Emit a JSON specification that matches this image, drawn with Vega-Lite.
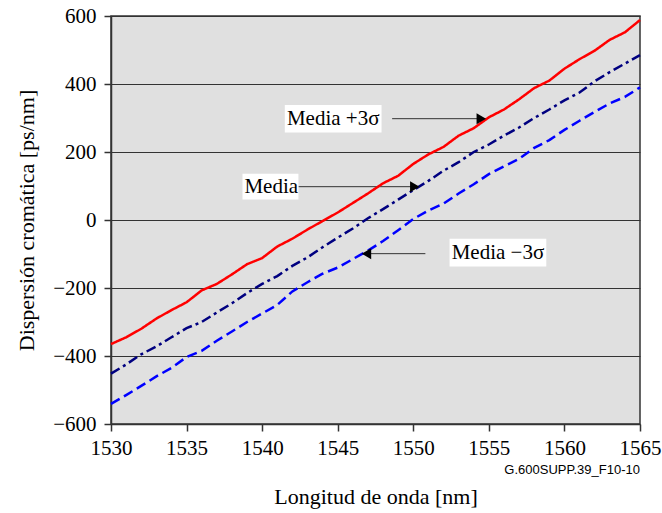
{
  "$schema": "https://vega.github.io/schema/vega-lite/v6.json",
  "width": 529,
  "height": 408,
  "autosize": {"type": "none"},
  "padding": {"left": 111, "top": 16, "right": 22, "bottom": 89},
  "background": "white",
  "config": {
    "view": {"fill": "#e0e0e0", "stroke": "#333333", "strokeWidth": 1.5},
    "font": "Liberation Serif"
  },
  "datasets": {
    "curves": [
      {"wl":1530,"s":"Media +3σ","v":-365},{"wl":1531,"s":"Media +3σ","v":-345},{"wl":1532,"s":"Media +3σ","v":-320},{"wl":1533,"s":"Media +3σ","v":-290},{"wl":1534,"s":"Media +3σ","v":-265},{"wl":1535,"s":"Media +3σ","v":-242},{"wl":1536,"s":"Media +3σ","v":-207},{"wl":1537,"s":"Media +3σ","v":-188},{"wl":1538,"s":"Media +3σ","v":-160},{"wl":1539,"s":"Media +3σ","v":-130},{"wl":1540,"s":"Media +3σ","v":-112},{"wl":1541,"s":"Media +3σ","v":-78},{"wl":1542,"s":"Media +3σ","v":-55},{"wl":1543,"s":"Media +3σ","v":-28},{"wl":1544,"s":"Media +3σ","v":-3},{"wl":1545,"s":"Media +3σ","v":22},{"wl":1546,"s":"Media +3σ","v":50},{"wl":1547,"s":"Media +3σ","v":78},{"wl":1548,"s":"Media +3σ","v":108},{"wl":1549,"s":"Media +3σ","v":130},{"wl":1550,"s":"Media +3σ","v":165},{"wl":1551,"s":"Media +3σ","v":193},{"wl":1552,"s":"Media +3σ","v":215},{"wl":1553,"s":"Media +3σ","v":248},{"wl":1554,"s":"Media +3σ","v":270},{"wl":1555,"s":"Media +3σ","v":302},{"wl":1556,"s":"Media +3σ","v":325},{"wl":1557,"s":"Media +3σ","v":355},{"wl":1558,"s":"Media +3σ","v":388},{"wl":1559,"s":"Media +3σ","v":410},{"wl":1560,"s":"Media +3σ","v":445},{"wl":1561,"s":"Media +3σ","v":473},{"wl":1562,"s":"Media +3σ","v":498},{"wl":1563,"s":"Media +3σ","v":530},{"wl":1564,"s":"Media +3σ","v":552},{"wl":1565,"s":"Media +3σ","v":588},
      {"wl":1530,"s":"Media","v":-452},{"wl":1531,"s":"Media","v":-425},{"wl":1532,"s":"Media","v":-395},{"wl":1533,"s":"Media","v":-372},{"wl":1534,"s":"Media","v":-345},{"wl":1535,"s":"Media","v":-318},{"wl":1536,"s":"Media","v":-300},{"wl":1537,"s":"Media","v":-272},{"wl":1538,"s":"Media","v":-245},{"wl":1539,"s":"Media","v":-215},{"wl":1540,"s":"Media","v":-188},{"wl":1541,"s":"Media","v":-165},{"wl":1542,"s":"Media","v":-135},{"wl":1543,"s":"Media","v":-110},{"wl":1544,"s":"Media","v":-80},{"wl":1545,"s":"Media","v":-52},{"wl":1546,"s":"Media","v":-25},{"wl":1547,"s":"Media","v":5},{"wl":1548,"s":"Media","v":32},{"wl":1549,"s":"Media","v":60},{"wl":1550,"s":"Media","v":88},{"wl":1551,"s":"Media","v":115},{"wl":1552,"s":"Media","v":145},{"wl":1553,"s":"Media","v":170},{"wl":1554,"s":"Media","v":200},{"wl":1555,"s":"Media","v":222},{"wl":1556,"s":"Media","v":248},{"wl":1557,"s":"Media","v":272},{"wl":1558,"s":"Media","v":300},{"wl":1559,"s":"Media","v":325},{"wl":1560,"s":"Media","v":352},{"wl":1561,"s":"Media","v":375},{"wl":1562,"s":"Media","v":408},{"wl":1563,"s":"Media","v":435},{"wl":1564,"s":"Media","v":460},{"wl":1565,"s":"Media","v":485},
      {"wl":1530,"s":"Media −3σ","v":-541},{"wl":1531,"s":"Media −3σ","v":-515},{"wl":1532,"s":"Media −3σ","v":-488},{"wl":1533,"s":"Media −3σ","v":-460},{"wl":1534,"s":"Media −3σ","v":-435},{"wl":1535,"s":"Media −3σ","v":-403},{"wl":1536,"s":"Media −3σ","v":-385},{"wl":1537,"s":"Media −3σ","v":-355},{"wl":1538,"s":"Media −3σ","v":-328},{"wl":1539,"s":"Media −3σ","v":-300},{"wl":1540,"s":"Media −3σ","v":-275},{"wl":1541,"s":"Media −3σ","v":-250},{"wl":1542,"s":"Media −3σ","v":-210},{"wl":1543,"s":"Media −3σ","v":-183},{"wl":1544,"s":"Media −3σ","v":-158},{"wl":1545,"s":"Media −3σ","v":-140},{"wl":1546,"s":"Media −3σ","v":-115},{"wl":1547,"s":"Media −3σ","v":-90},{"wl":1548,"s":"Media −3σ","v":-62},{"wl":1549,"s":"Media −3σ","v":-30},{"wl":1550,"s":"Media −3σ","v":3},{"wl":1551,"s":"Media −3σ","v":28},{"wl":1552,"s":"Media −3σ","v":48},{"wl":1553,"s":"Media −3σ","v":78},{"wl":1554,"s":"Media −3σ","v":105},{"wl":1555,"s":"Media −3σ","v":135},{"wl":1556,"s":"Media −3σ","v":158},{"wl":1557,"s":"Media −3σ","v":180},{"wl":1558,"s":"Media −3σ","v":212},{"wl":1559,"s":"Media −3σ","v":235},{"wl":1560,"s":"Media −3σ","v":265},{"wl":1561,"s":"Media −3σ","v":292},{"wl":1562,"s":"Media −3σ","v":318},{"wl":1563,"s":"Media −3σ","v":343},{"wl":1564,"s":"Media −3σ","v":362},{"wl":1565,"s":"Media −3σ","v":390}
    ],
    "notes": [
      {"label":"Media +3σ","tx":1544.7,"ty":298,"bx1":1541.5,"bx2":1547.9,"by1":257,"by2":338,"ax1":1548.6,"ax2":1554.5,"ay":298,"shape":"triangle-right"},
      {"label":"Media","tx":1540.6,"ty":98,"bx1":1538.7,"bx2":1542.4,"by1":60,"by2":136,"ax1":1542.4,"ax2":1550.1,"ay":98,"shape":"triangle-right"},
      {"label":"Media −3σ","tx":1555.6,"ty":-97,"bx1":1552.4,"bx2":1558.8,"by1":-137,"by2":-55,"ax1":1550.8,"ax2":1546.9,"ay":-99,"shape":"triangle-left"}
    ],
    "foot": [{"wl":1565,"v":-735,"t":"G.600SUPP.39_F10-10"}]
  },
  "layer": [
    {
      "data": {"name": "notes"},
      "mark": {"type": "rule", "color": "#333333", "strokeWidth": 1},
      "encoding": {
        "x": {"field": "ax1", "type": "quantitative", "scale": {"domain": [1530, 1565], "nice": false}},
        "x2": {"field": "ax2"},
        "y": {"field": "ay", "type": "quantitative", "scale": {"domain": [-600, 600], "nice": false}}
      }
    },
    {
      "data": {"name": "curves"},
      "mark": {"type": "line", "strokeWidth": 2.5},
      "encoding": {
        "x": {
          "field": "wl", "type": "quantitative",
          "scale": {"domain": [1530, 1565], "nice": false, "zero": false},
          "axis": {
            "values": [1530, 1535, 1540, 1545, 1550, 1555, 1560, 1565],
            "format": "d", "grid": false, "domain": true, "domainColor": "#333333", "domainWidth": 1.5,
            "tickColor": "#333333", "tickSize": 7, "tickWidth": 1.5,
            "labelFont": "Liberation Serif", "labelFontSize": 21, "labelColor": "black", "labelPadding": 6,
            "labelFlush": false, "labelOverlap": false,
            "title": "Longitud de onda [nm]", "titleFont": "Liberation Serif", "titleFontSize": 22,
            "titleFontWeight": "normal", "titleColor": "black", "titlePadding": 28
          }
        },
        "y": {
          "field": "v", "type": "quantitative",
          "scale": {"domain": [-600, 600], "nice": false},
          "axis": {
            "values": [-600, -400, -200, 0, 200, 400, 600],
            "grid": true, "gridColor": "#333333", "gridWidth": 1.2, "gridOpacity": 1,
            "domain": true, "domainColor": "#333333", "domainWidth": 1.5,
            "tickColor": "#333333", "tickSize": 7, "tickWidth": 1.5,
            "labelFont": "Liberation Serif", "labelFontSize": 21, "labelColor": "black", "labelPadding": 8,
            "labelFlush": false, "labelOverlap": false,
            "title": "Dispersión cromática [ps/nm]", "titleFont": "Liberation Serif", "titleFontSize": 22,
            "titleFontWeight": "normal", "titleColor": "black", "titlePadding": 14
          }
        },
        "color": {
          "field": "s", "type": "nominal",
          "scale": {"domain": ["Media +3σ", "Media", "Media −3σ"], "range": ["#ff0000", "#000080", "#0000ff"]},
          "legend": null
        },
        "strokeDash": {
          "field": "s", "type": "nominal",
          "scale": {"domain": ["Media +3σ", "Media", "Media −3σ"], "range": [[1, 0], [10, 4, 3, 4], [10, 5]]},
          "legend": null
        }
      }
    },
    {
      "data": {"name": "notes"},
      "mark": {"type": "point", "filled": true, "color": "black", "opacity": 1, "size": 120},
      "encoding": {
        "x": {"field": "ax2", "type": "quantitative"},
        "y": {"field": "ay", "type": "quantitative"},
        "shape": {"field": "shape", "type": "nominal", "scale": {"domain": ["triangle-right", "triangle-left"], "range": ["triangle-right", "triangle-left"]}, "legend": null}
      }
    },
    {
      "data": {"name": "notes"},
      "mark": {"type": "rect", "fill": "white", "stroke": null},
      "encoding": {
        "x": {"field": "bx1", "type": "quantitative"},
        "x2": {"field": "bx2"},
        "y": {"field": "by1", "type": "quantitative"},
        "y2": {"field": "by2"}
      }
    },
    {
      "data": {"name": "notes"},
      "mark": {"type": "text", "font": "Liberation Serif", "fontSize": 21, "color": "black", "align": "center", "baseline": "middle"},
      "encoding": {
        "x": {"field": "tx", "type": "quantitative"},
        "y": {"field": "ty", "type": "quantitative"},
        "text": {"field": "label"}
      }
    },
    {
      "data": {"name": "foot"},
      "mark": {"type": "text", "font": "Liberation Sans", "fontSize": 13, "color": "black", "align": "right", "baseline": "middle"},
      "encoding": {
        "x": {"field": "wl", "type": "quantitative"},
        "y": {"field": "v", "type": "quantitative"},
        "text": {"field": "t"}
      }
    }
  ]
}
